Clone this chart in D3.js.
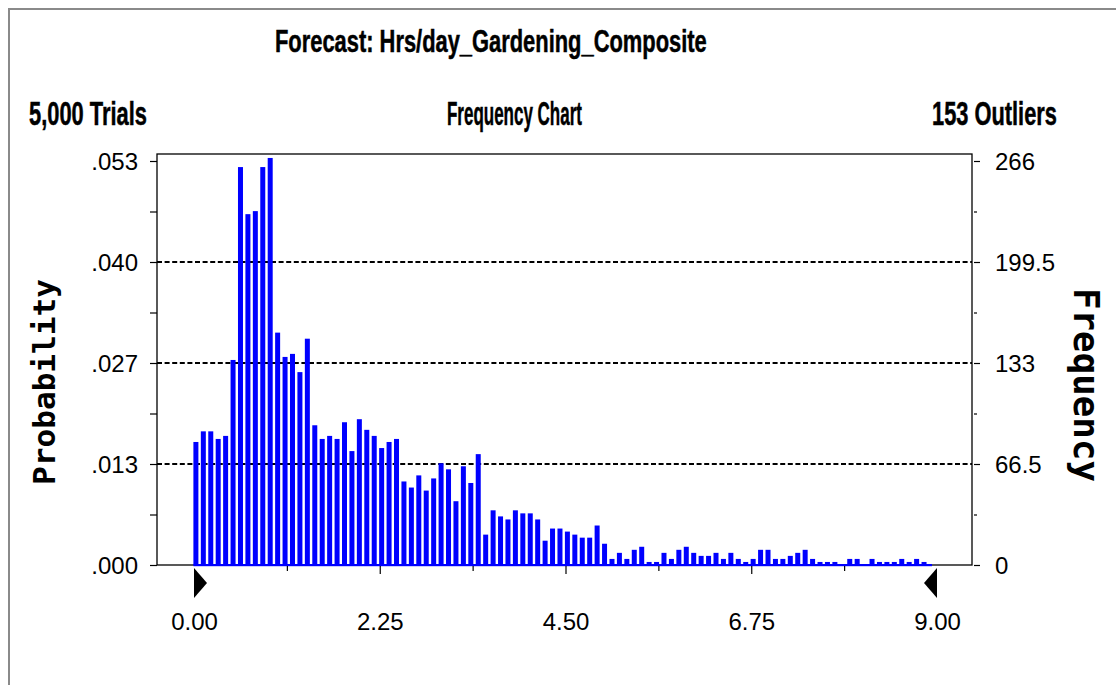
<!DOCTYPE html>
<html>
<head>
<meta charset="utf-8">
<script src="https://cdn.jsdelivr.net/npm/d3@7"></script>
<style>
  body { margin: 0; background: #fff; }
  svg { display: block; }
</style>
</head>
<body>
<svg id="chart" width="1116" height="685"></svg>
<script>
// Simulated forecast: count of trials per bin (bin width 0.09 hrs/day)
const binWidth = 0.09;
const frequencies = [
  81, 88, 88, 83, 85, 135, 262, 231, 233, 262,
  268, 153, 137, 139, 127, 149, 92, 83, 85, 83,
  94, 75, 96, 89, 85, 77, 81, 83, 55, 51,
  59, 49, 57, 67, 63, 42, 65, 54, 73, 20,
  36, 32, 30, 36, 34, 34, 30, 16, 24, 24,
  22, 20, 18, 18, 26, 14, 4, 8, 4, 10,
  12, 2, 2, 8, 4, 10, 12, 8, 6, 6,
  8, 4, 8, 4, 2, 4, 10, 10, 4, 4,
  6, 8, 10, 4, 2, 2, 2, 0, 4, 4,
  0, 4, 2, 2, 2, 4, 2, 4, 2, 0
];

// Axis ticks and labels
const xTickValues = [0, 2.25, 4.5, 6.75, 9];
const xTickLabels = ["0.00", "2.25", "4.50", "6.75", "9.00"];
const freqTickValues = [0, 66.5, 133, 199.5, 266];
const freqTickLabels = ["0", "66.5", "133", "199.5", "266"];
const probTickLabels = [".000", ".013", ".027", ".040", ".053"];
const gridValues = [66.5, 133, 199.5];

// Header texts
const titleText = "Forecast: Hrs/day_Gardening_Composite";
const trialsText = "5,000 Trials";
const chartTypeText = "Frequency Chart";
const outliersText = "153 Outliers";

const svg = d3.select("#chart");
const narrow = "'Liberation Sans Narrow', 'Arial Narrow', 'Liberation Sans', Arial, sans-serif";
const mono = "'DejaVu Sans Mono', 'Liberation Mono', monospace";

// Outer panel border (left and top edges of the window panel)
svg.append("path")
  .attr("d", "M9,685 V9 H1116")
  .attr("fill", "none").attr("stroke", "#8a8a8a").attr("stroke-width", 2);

const frame = { left: 157, right: 972, top: 154, bottom: 565 };
const x = d3.scaleLinear().domain([0, 9]).range([194, 937]);
const y = d3.scaleLinear().domain([0, 266]).range([frame.bottom, 161]);

// Headers: heavy, condensed type. The font is set smaller so the line fits
// the given width, then stretched vertically back to the full cap height.
function header(text, xPos, yPos, size, width) {
  const g = svg.append("g").attr("transform", `translate(${xPos},${yPos})`);
  const t = g.append("text")
    .attr("x", 0).attr("y", 0)
    .attr("font-family", narrow)
    .attr("font-weight", "bold")
    .attr("font-size", size)
    .attr("fill", "#000")
    .text(text);
  const natural = t.node().getComputedTextLength();
  const f = width / natural;
  t.attr("font-size", size * f)
    .attr("stroke", "#000").attr("stroke-width", 0.5 * f);
  g.attr("transform", `translate(${xPos},${yPos}) scale(1,${(1 / f).toFixed(4)})`);
}
header(titleText, 275, 52, 31.5, 432);
header(trialsText, 29, 125, 33, 118);
header(chartTypeText, 447, 125, 33, 135);
header(outliersText, 932, 125, 33, 125);

// Plot frame
svg.append("rect")
  .attr("x", frame.left).attr("y", frame.top)
  .attr("width", frame.right - frame.left)
  .attr("height", frame.bottom - frame.top)
  .attr("fill", "none").attr("stroke", "#000").attr("stroke-width", 1.3);

// Dashed reference lines
svg.append("g").selectAll("line")
  .data(gridValues)
  .join("line")
  .attr("x1", frame.left).attr("x2", frame.right)
  .attr("y1", d => y(d)).attr("y2", d => y(d))
  .attr("stroke", "#000").attr("stroke-width", 2.2)
  .attr("stroke-dasharray", "5,2.6");

// Left axis (probability)
const minorFreq = d3.range(0, 266.01, 33.25);
const leftAxis = svg.append("g")
  .attr("transform", `translate(${frame.left},0)`)
  .call(d3.axisLeft(y)
    .tickValues(minorFreq)
    .tickSize(7)
    .tickPadding(12)
    .tickFormat((d, i) => i % 2 === 0 ? probTickLabels[i / 2] : ""));
leftAxis.select(".domain").remove();
leftAxis.selectAll(".tick line").attr("stroke", "#000").attr("stroke-width", 1.2);
leftAxis.selectAll(".tick text")
  .attr("font-family", narrow).attr("font-size", 24).attr("fill", "#000")
  .attr("dy", "0.36em");

// Right axis (frequency)
const rightAxis = svg.append("g")
  .attr("transform", `translate(${frame.right + 2},0)`)
  .call(d3.axisRight(y)
    .tickValues(minorFreq)
    .tickSize(6)
    .tickPadding(15)
    .tickFormat((d, i) => i % 2 === 0 ? freqTickLabels[i / 2] : ""));
rightAxis.select(".domain").remove();
rightAxis.selectAll(".tick line")
  .attr("stroke", "#000").attr("stroke-width", 1.2)
  .attr("x2", (d, i) => i % 2 === 0 ? 6 : 3);
rightAxis.selectAll(".tick text")
  .attr("font-family", narrow).attr("font-size", 24).attr("fill", "#000")
  .attr("dy", "0.36em");

// Bars
svg.append("g").selectAll("rect")
  .data(frequencies)
  .join("rect")
  .attr("x", (d, i) => x(i * binWidth) - 0.6)
  .attr("width", 5)
  .attr("y", d => y(d))
  .attr("height", d => frame.bottom - y(d))
  .attr("fill", "#0000ff");

// Blue base strip under the bars
svg.append("rect")
  .attr("x", x(0) - 0.6)
  .attr("y", frame.bottom - 1)
  .attr("width", x((frequencies.length - 1) * binWidth) + 3 - x(0))
  .attr("height", 2.2)
  .attr("fill", "#0000ff");

// Bottom axis
const xMinor = d3.range(0, 9.001, 1.125);
const bottomAxis = svg.append("g")
  .attr("transform", `translate(0,${frame.bottom + 1})`)
  .call(d3.axisBottom(x)
    .tickValues(xMinor)
    .tickSize(8)
    .tickPadding(40)
    .tickFormat((d, i) => i % 2 === 0 ? xTickLabels[i / 2] : ""));
bottomAxis.select(".domain").remove();
bottomAxis.selectAll(".tick line")
  .attr("stroke", "#000").attr("stroke-width", 1.2)
  .attr("y2", (d, i) => i % 2 === 0 ? 8 : 5)
  .attr("display", (d, i) => (i === 0 || i === xMinor.length - 1) ? "none" : null);
bottomAxis.selectAll(".tick text")
  .attr("font-family", narrow).attr("font-size", 24).attr("fill", "#000")
  .attr("y", 47).attr("dy", "0.71em");

// Range markers at the ends of the axis
const markerTop = frame.bottom + 3, markerBot = frame.bottom + 33;
svg.append("path")
  .attr("d", `M${x(0)},${markerTop} L${x(0) + 13},${(markerTop + markerBot) / 2} L${x(0)},${markerBot} Z`)
  .attr("fill", "#000");
svg.append("path")
  .attr("d", `M${x(9)},${markerTop} L${x(9) - 13},${(markerTop + markerBot) / 2} L${x(9)},${markerBot} Z`)
  .attr("fill", "#000");

// Axis titles
svg.append("text")
  .attr("transform", "translate(55,382) rotate(-90)")
  .attr("text-anchor", "middle")
  .attr("font-family", mono).attr("font-weight", "bold")
  .attr("font-size", 30)
  .attr("textLength", 206).attr("lengthAdjust", "spacingAndGlyphs")
  .attr("fill", "#000")
  .text("Probability");
svg.append("text")
  .attr("transform", "translate(1074,385) rotate(90)")
  .attr("text-anchor", "middle")
  .attr("font-family", mono).attr("font-weight", "bold")
  .attr("font-size", 36)
  .attr("textLength", 194).attr("lengthAdjust", "spacingAndGlyphs")
  .attr("fill", "#000")
  .text("Frequency");
</script>
</body>
</html>
